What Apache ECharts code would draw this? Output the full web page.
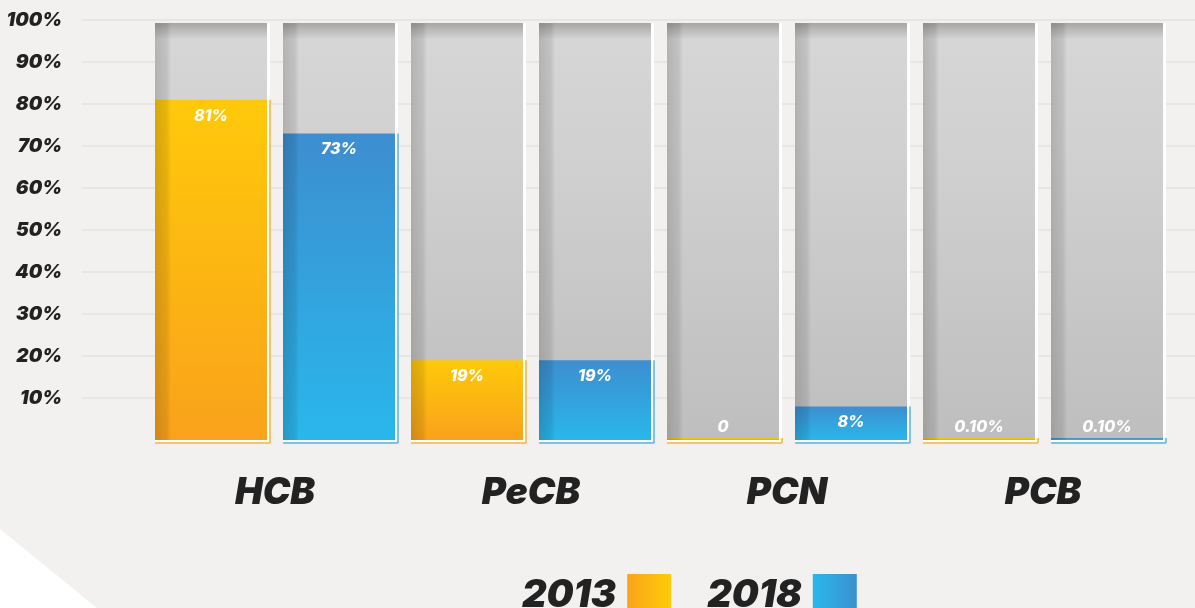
<!DOCTYPE html>
<html>
<head>
<meta charset="utf-8">
<script src="https://cdn.jsdelivr.net/npm/echarts@6/dist/echarts.min.js"></script>
<style>
  html, body { margin: 0; padding: 0; background: #f2f1ef; }
  #main { width: 1195px; height: 608px; }
</style>
</head>
<body>
<div id="main"></div>
<script>
// data
var categories = ['HCB', 'PeCB', 'PCN', 'PCB'];
var years = ['2013', '2018'];
var values2013 = [81, 19, 0, 0.1];
var values2018 = [73, 19, 8, 0.1];
var yTicks = [0, 10, 20, 30, 40, 50, 60, 70, 80, 90, 100];

var FULL = 99.3; // grey track height
var FONT = 'Inter, "Open Sans", Lato, sans-serif';

var palette = [
  { top: '#ffc90a', bottom: '#f9a21b', left: '#f9a31b', right: '#ffcc08', line: '#f6b23a' },
  { top: '#3d8ed0', bottom: '#29b7eb', left: '#27b9ec', right: '#3d8fd0', line: '#52b3df' }
];

function vGrad(c1, c2) {
  return new echarts.graphic.LinearGradient(0, 0, 0, 1, [
    { offset: 0, color: c1 }, { offset: 1, color: c2 }
  ]);
}

function fmtLabel(v) {
  if (v === 0) return '0';
  if (v < 1) return v.toFixed(2) + '%';
  return v + '%';
}

function renderBar(params, api) {
  var cat = api.value(0), v = api.value(1);
  var base = api.coord([cat, 0]);
  var top = api.coord([cat, FULL]);
  var vTop = api.coord([cat, v]);
  var band = api.size([1, 0])[0];
  var barW = band * 0.4375;
  var gap = band * 0.0625;
  var left = params.seriesIndex === 0 ? base[0] - barW - gap / 2 : base[0] + gap / 2;
  var c = palette[params.seriesIndex];
  var h = base[1] - top[1];
  var vh = Math.max(base[1] - vTop[1], 2);
  var labelY = Math.min(vTop[1] + 16, base[1] - 13);
  return {
    type: 'group',
    children: [
      { type: 'rect', shape: { x: left, y: top[1], width: barW + 3, height: h + 3 }, style: { fill: '#ffffff' } },
      { type: 'line', shape: { x1: left, y1: base[1] + 3, x2: left + barW + 3, y2: base[1] + 3 }, style: { stroke: c.line, lineWidth: 1.5 } },
      { type: 'line', shape: { x1: left + barW + 3, y1: base[1] - vh, x2: left + barW + 3, y2: base[1] + 3 }, style: { stroke: c.line, lineWidth: 1.5 } },
      { type: 'rect', shape: { x: left, y: top[1], width: barW, height: h },
        style: { fill: new echarts.graphic.LinearGradient(0, 0, 0, 1, [
          { offset: 0, color: '#a6a5a4' }, { offset: 0.04, color: '#d7d6d6' },
          { offset: 0.3, color: '#d2d1d1' }, { offset: 1, color: '#bfbebe' }
        ]) } },
      { type: 'rect', shape: { x: left, y: base[1] - vh, width: barW, height: vh },
        style: { fill: vGrad(c.top, c.bottom) } },
      { type: 'rect', shape: { x: left, y: top[1], width: 16, height: h },
        style: { fill: new echarts.graphic.LinearGradient(0, 0, 1, 0, [
          { offset: 0, color: 'rgba(0,0,0,0.16)' }, { offset: 0.75, color: 'rgba(0,0,0,0.09)' },
          { offset: 1, color: 'rgba(0,0,0,0)' }
        ]) } },
      { type: 'text', x: left + barW / 2, y: labelY,
        style: { text: fmtLabel(v), fill: '#ffffff', font: 'italic 800 16px ' + FONT,
          align: 'center', verticalAlign: 'middle' } }
    ]
  };
}

function makeSeries(i, values) {
  var c = palette[i];
  return {
    name: years[i],
    type: 'custom',
    xAxisIndex: 1,
    yAxisIndex: 1,
    renderItem: renderBar,
    itemStyle: {
      color: new echarts.graphic.LinearGradient(0, 0, 1, 0, [
        { offset: 0, color: c.left }, { offset: 1, color: c.right }
      ])
    },
    encode: { x: 0, y: 1 },
    data: values.map(function (v, k) { return [k, v]; })
  };
}

var chart = echarts.init(document.getElementById('main'));
chart.setOption({
  backgroundColor: '#f2f1ef',
  animation: false,
  graphic: [{
    type: 'polygon', z: -10,
    shape: { points: [[0, 529], [0, 608], [97, 608]] },
    style: { fill: '#ffffff' }
  }],
  legend: {
    data: years,
    left: 517,
    top: 569,
    align: 'right',
    icon: 'rect',
    itemWidth: 44,
    itemHeight: 44,
    itemGap: 36,
    textStyle: { fontFamily: FONT, fontSize: 38, fontWeight: 900, fontStyle: 'italic', color: '#222222', padding: [0, 6, 0, 0] }
  },
  grid: [
    { left: 82, right: 0, top: 20, bottom: 168 },
    { left: 147, right: 24, top: 20, bottom: 168 }
  ],
  xAxis: [
    { gridIndex: 0, type: 'value', show: false },
    {
      gridIndex: 1, type: 'category', data: categories,
      axisLine: { show: false }, axisTick: { show: false },
      axisLabel: { margin: 34, fontFamily: FONT, fontSize: 37, fontWeight: 900, fontStyle: 'italic', color: '#222222' }
    }
  ],
  yAxis: [
    {
      gridIndex: 0, type: 'value', min: yTicks[0], max: yTicks[yTicks.length - 1], interval: 10,
      axisLine: { show: false }, axisTick: { show: false },
      splitLine: { showMinLine: false, lineStyle: { color: '#e3e2e0', width: 1.5 } },
      axisLabel: {
        margin: 20, fontFamily: FONT, fontSize: 19, fontWeight: 900, fontStyle: 'italic', color: '#222222',
        formatter: function (v) { return v === 0 ? '' : v + '%'; }
      }
    },
    { gridIndex: 1, type: 'value', min: 0, max: 100, show: false }
  ],
  series: [makeSeries(0, values2013), makeSeries(1, values2018)]
});
</script>
</body>
</html>
